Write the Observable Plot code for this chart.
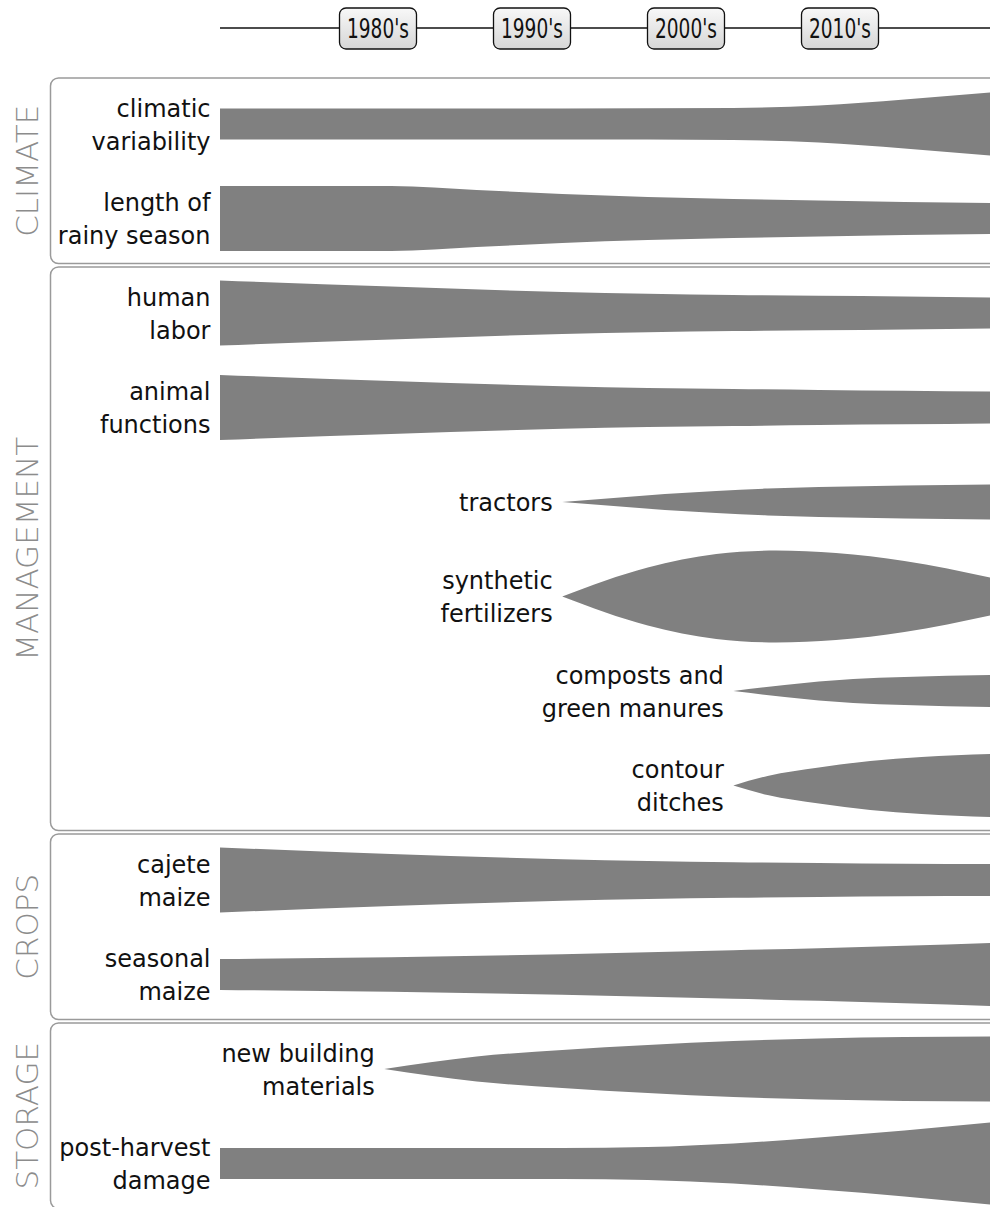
<!DOCTYPE html>
<html>
<head>
<meta charset="utf-8">
<script src="https://cdn.jsdelivr.net/npm/d3@7"></script>
<script src="https://cdn.jsdelivr.net/npm/@observablehq/plot@0.6"></script>
<style>
  html, body { margin: 0; padding: 0; background: #fff; }
  #chart svg { display: block; }
</style>
</head>
<body>
<div id="chart"></div>
<script>
// ---- Data ----
const decades = ["1980's", "1990's", "2000's", "2010's"];

const groups = ["CLIMATE", "MANAGEMENT", "CROPS", "STORAGE"];

const rowLabels = [
  "climatic\nvariability",
  "length of\nrainy season",
  "human\nlabor",
  "animal\nfunctions",
  "tractors",
  "synthetic\nfertilizers",
  "composts and\ngreen manures",
  "contour\nditches",
  "cajete\nmaize",
  "seasonal\nmaize",
  "new building\nmaterials",
  "post-harvest\ndamage"
];
const rowGroup = [0, 0, 1, 1, 1, 1, 1, 1, 2, 2, 3, 3];

// [year, relative width]
const climaticVariability = [[1975,31],[1985,31],[1995,31],[2005,32],[2010,37],[2015,49],[2020,63]];
const lengthRainySeason  = [[1975,65],[1985,65],[1990,57],[1995,49],[2000,43],[2005,39],[2010,36],[2015,33],[2020,31]];
const humanLabor         = [[1975,65],[1985,53],[1995,42],[2000,38.5],[2005,36],[2010,34.5],[2015,33],[2020,31]];
const animalFunctions    = [[1975,65],[1985,53],[1995,42.5],[2000,39],[2005,37],[2010,35],[2015,33.5],[2020,32]];
const tractors           = [[1995,0],[1998,8],[2001,16],[2004,22],[2007,27],[2010,30],[2015,33],[2020,35]];
const syntheticFert      = [[1995,0],[2000,58],[2004,85],[2007.5,92],[2011,87],[2015,71],[2020,38]];
const compostsManures    = [[2005,0],[2008,12],[2010,19],[2012,24],[2015,28],[2020,32]];
const contourDitches     = [[2005,0],[2007,19],[2010,36],[2013,49],[2016,57],[2020,63]];
const cajeteMaize        = [[1975,65],[1985,52],[1995,41.5],[2000,38],[2005,35.5],[2010,34],[2015,32.5],[2020,32]];
const seasonalMaize      = [[1975,31],[1985,34.5],[1995,40.5],[2005,48.5],[2010,52.5],[2015,57.5],[2020,63]];
const newBuildingMat     = [[1984.6,0],[1990,25],[1995,38],[2000,48],[2005,56],[2010,61],[2015,64],[2020,65]];
const postHarvestDamage  = [[1975,31],[1985,31],[1995,31],[2000,33],[2005,40],[2010,52],[2015,66],[2020,82]];

const series = [climaticVariability, lengthRainySeason, humanLabor, animalFunctions, tractors,
  syntheticFert, compostsManures, contourDitches, cajeteMaize, seasonalMaize, newBuildingMat, postHarvestDamage];

// ---- Build tables ----
const unitsPerRow = 94.5; // width units spanned by one row band
const streams = series.flatMap((s, row) => s.map(([year, w]) => ({row, year, w})));
const labels = rowLabels.map((label, row) => ({row, label, start: series[row][0][0]}));

const W = 990, H = 1207, headerH = 56;
const nRows = rowLabels.length;
const FONT = "'DejaVu Sans', sans-serif";

// ---- Header: decade timeline ----
function timelineBoxes(index, scales, values, dims) {
  const g = d3.create("svg:g");
  const defs = g.append("defs");
  const grad = defs.append("linearGradient").attr("id", "boxgrad")
    .attr("x1", 0).attr("y1", 0).attr("x2", 0).attr("y2", 1);
  grad.append("stop").attr("offset", "0%").attr("stop-color", "#f8f8f8");
  grad.append("stop").attr("offset", "100%").attr("stop-color", "#d6d6d6");
  const yLine = 28;
  g.append("line")
    .attr("x1", 220).attr("x2", dims.width)
    .attr("y1", yLine).attr("y2", yLine)
    .attr("stroke", "#111").attr("stroke-width", 1.5);
  decades.forEach(d => {
    const cx = scales.x(d);
    g.append("rect")
      .attr("x", cx - 38.5).attr("y", 8).attr("width", 77).attr("height", 41)
      .attr("rx", 6.5).attr("fill", "url(#boxgrad)")
      .attr("stroke", "#111").attr("stroke-width", 1.3);
    g.append("text")
      .attr("x", cx).attr("y", yLine + 1).attr("dy", "0.36em")
      .attr("text-anchor", "middle").attr("font-size", 26)
      .attr("textLength", 62).attr("lengthAdjust", "spacingAndGlyphs")
      .attr("fill", "#111")
      .text(d);
  });
  return g.node();
}

const header = Plot.plot({
  width: W, height: headerH,
  margin: 0,
  style: {fontFamily: FONT, background: "#fff"},
  x: {type: "point", domain: decades, range: [376.5, 840.5], padding: 0, axis: null},
  marks: [
    timelineBoxes,
    Plot.dot(decades, {x: d => d, r: 0, stroke: "none"})
  ]
});

// ---- Main chart ----
function panels(index, scales, values, dims) {
  const g = d3.create("svg:g");
  groups.forEach((name, gi) => {
    const idx = rowGroup.map((v, i) => v === gi ? i : -1).filter(i => i >= 0);
    const top = scales.y(idx[0] - 0.5) + 1.2;
    const bottom = scales.y(idx[idx.length - 1] + 0.5) - 2.2;
    g.append("rect")
      .attr("x", 50.5).attr("y", top)
      .attr("width", dims.width).attr("height", bottom - top)
      .attr("rx", 8).attr("ry", 8)
      .attr("fill", "none").attr("stroke", "#9a9a9a").attr("stroke-width", 1.5);
    g.append("text")
      .attr("transform", `translate(27,${(top + bottom) / 2}) rotate(-90)`)
      .attr("text-anchor", "middle").attr("dy", "0.36em")
      .attr("font-size", 31).attr("font-weight", 200)
      .attr("fill", "#8c8c8c")
      .text(name);
  });
  return g.node();
}

const y0 = 76.75 - headerH;
const chart = Plot.plot({
  width: W,
  height: H - headerH,
  marginTop: 0, marginBottom: 0, marginLeft: 220, marginRight: 0,
  style: {fontFamily: FONT, background: "#fff", overflow: "hidden"},
  x: {domain: [1975, 2020], range: [220, W], axis: null},
  y: {domain: [-0.5, nRows - 0.5], range: [y0, y0 + nRows * unitsPerRow], axis: null},
  marks: [
    panels,
    Plot.areaY(streams, {
      x: "year",
      y1: d => d.row - d.w / (2 * unitsPerRow),
      y2: d => d.row + d.w / (2 * unitsPerRow),
      z: "row",
      fill: "#808080",
      curve: "monotone-x"
    }),
    Plot.text(labels, {
      x: "start", y: "row", text: "label",
      textAnchor: "end", dx: -10, dy: -2,
      fontSize: 24, lineHeight: 1.38, fill: "#111"
    })
  ]
});

const root = document.getElementById("chart");
root.appendChild(header);
root.appendChild(chart);
</script>
</body>
</html>
